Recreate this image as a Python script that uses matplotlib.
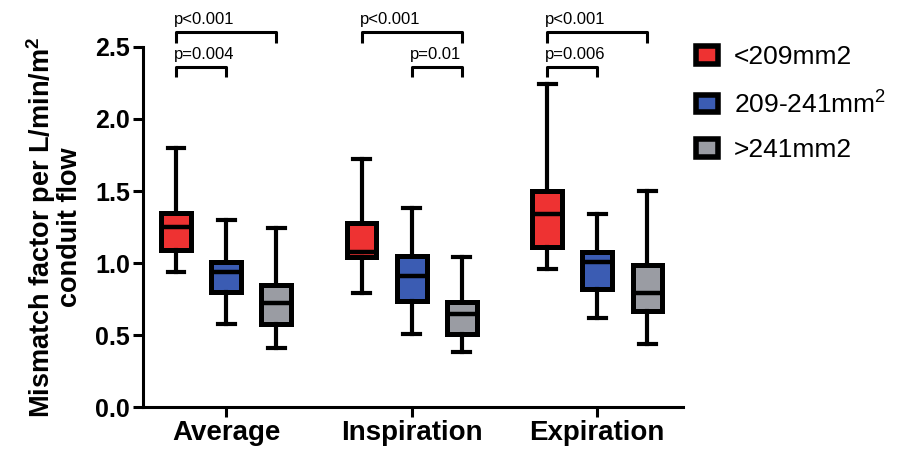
import matplotlib.pyplot as plt
from matplotlib.patches import Patch

plt.rcParams['font.family'] = ['Liberation Sans', 'DejaVu Sans']
plt.rcParams['mathtext.fontset'] = 'custom'
plt.rcParams['mathtext.rm'] = 'Liberation Sans'
plt.rcParams['mathtext.bf'] = 'Liberation Sans:bold'

categories = ['Average', 'Inspiration', 'Expiration']
groups = ['<209mm2', '209-241mm$^2$', '>241mm2']
colors = ['#ee3232', '#3b5cb3', '#9a9ca3']

# per group: [Average, Inspiration, Expiration]
whislo = [[0.94, 0.79, 0.96], [0.58, 0.51, 0.62], [0.41, 0.38, 0.44]]
q1 = [[1.09, 1.04, 1.11], [0.80, 0.74, 0.82], [0.58, 0.51, 0.67]]
med = [[1.25, 1.08, 1.34], [0.94, 0.91, 1.01], [0.72, 0.65, 0.79]]
q3 = [[1.35, 1.28, 1.50], [1.01, 1.05, 1.08], [0.85, 0.73, 0.99]]
whishi = [[1.80, 1.72, 2.24], [1.30, 1.38, 1.34], [1.24, 1.04, 1.50]]

# (category, group a, group b, level, label)
brackets = [
    (0, 0, 2, 2.60, 'p<0.001'), (0, 0, 1, 2.36, 'p=0.004'),
    (1, 0, 2, 2.60, 'p<0.001'), (1, 1, 2, 2.36, 'p=0.01'),
    (2, 0, 2, 2.60, 'p<0.001'), (2, 0, 1, 2.36, 'p=0.006'),
]

fig = plt.figure(figsize=(9.03, 4.55), dpi=100)
ax = fig.add_axes([0.158, 0.105, 0.598, 0.792])

offset = 0.27
for g in range(3):
    stats = []
    for c in range(3):
        stats.append({'whislo': whislo[g][c], 'q1': q1[g][c], 'med': med[g][c],
                      'q3': q3[g][c], 'whishi': whishi[g][c], 'fliers': []})
    pos = [c + (g - 1) * offset for c in range(3)]
    ax.bxp(stats, positions=pos, widths=0.16, patch_artist=True, showfliers=False,
           boxprops=dict(facecolor=colors[g], edgecolor='black', linewidth=3.6),
           medianprops=dict(color='black', linewidth=3.2),
           whiskerprops=dict(color='black', linewidth=3.0),
           capprops=dict(color='black', linewidth=3.0),
           capwidths=0.09, manage_ticks=False)

for c, a, b, lvl, label in brackets:
    x1 = c + (a - 1) * offset
    x2 = c + (b - 1) * offset
    ax.plot([x1, x1, x2, x2], [lvl - 0.07, lvl, lvl, lvl - 0.07], color='black',
            linewidth=2.2, clip_on=False, solid_capstyle='butt')
    ax.text(x1 - 0.01, lvl + 0.035, label, fontsize=12, ha='left', va='bottom')

ax.set_xlim(-0.45, 2.46)
ax.set_ylim(0, 2.5)
ax.set_yticks([0, 0.5, 1.0, 1.5, 2.0, 2.5])
ax.set_yticklabels(['0.0', '0.5', '1.0', '1.5', '2.0', '2.5'], fontsize=18, fontweight='bold')
ax.set_xticks([0, 1, 2])
ax.set_xticklabels(categories, fontsize=20, fontweight='bold')
ax.tick_params(axis='both', width=2.2, length=7, pad=2)
ax.spines['top'].set_visible(False)
ax.spines['right'].set_visible(False)
ax.spines['left'].set_linewidth(2.2)
ax.spines['bottom'].set_linewidth(2.2)
ax.set_ylabel('Mismatch factor per L/min/m$^\\mathbf{2}$\nconduit flow',
              fontsize=19.5, fontweight='bold', linespacing=0.95, labelpad=9)

handles = [Patch(facecolor=colors[g], edgecolor='black', linewidth=4) for g in range(3)]
ax.legend(handles, groups, loc='upper left', bbox_to_anchor=(0.98, 1.07), frameon=False,
          fontsize=19, handlelength=0.85, handleheight=0.65, labelspacing=0.78, handletextpad=0.6)

fig.savefig('out.png', dpi=100)
